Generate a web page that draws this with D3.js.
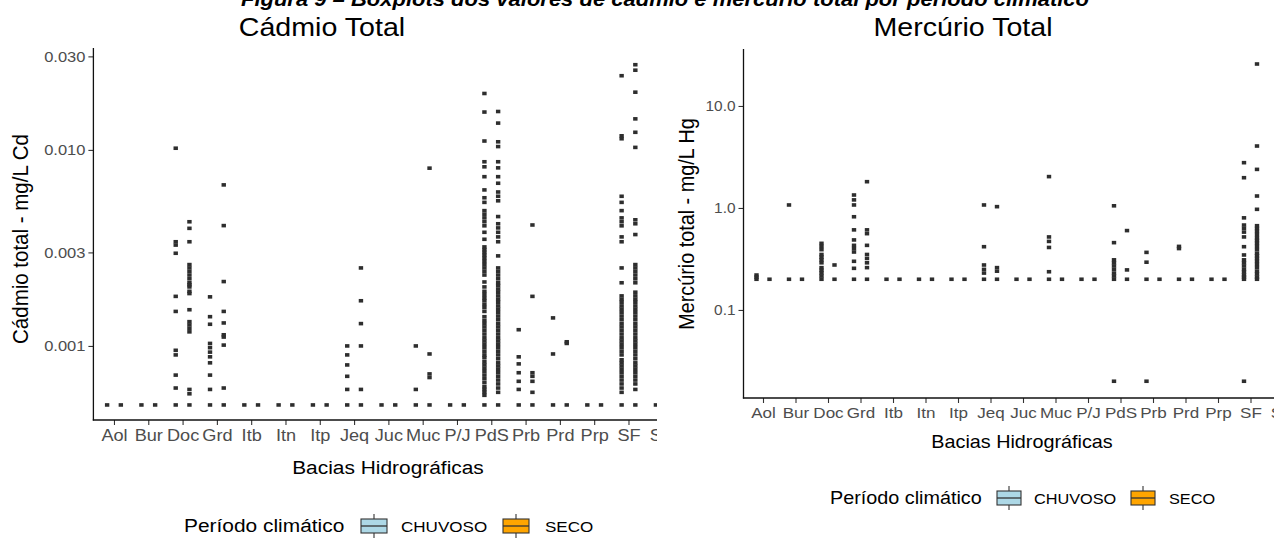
<!DOCTYPE html>
<html>
<head>
<meta charset="utf-8">
<script src="https://cdn.jsdelivr.net/npm/d3@7"></script>
<style>
  html, body { margin: 0; padding: 0; background: #fff; }
  svg { display: block; font-family: "Liberation Sans", Arial, sans-serif; }
</style>
</head>
<body>
<svg id="chart" width="1274" height="538"></svg>
<script>
// Bacias hidrográficas (eixo x, comum aos dois painéis)
const bacias = ["Aol", "Bur", "Doc", "Grd", "Itb", "Itn", "Itp", "Jeq", "Juc", "Muc", "P/J", "PdS", "Prb", "Prd", "Prp", "SF", "SM"];
const periodos = ["CHUVOSO", "SECO"];
const periodoCores = ["#ADD8E6", "#FFA500"];

// Cádmio total (mg/L Cd) - período chuvoso, um vetor por bacia
const cdChuvoso = [
  [0.0005],
  [0.0005],
  [0.0102, 0.0034, 0.00327, 0.00297, 0.00179, 0.0015, 0.00095, 0.0009, 0.00071, 0.00061, 0.0005],
  [0.00178, 0.00141, 0.00129, 0.00103, 0.00098, 0.00093, 0.00088, 0.00082, 0.00071, 0.0006, 0.0005],
  [0.0005],
  [0.0005],
  [0.0005],
  [0.001, 0.0009, 0.0008, 0.0007, 0.0006, 0.0005],
  [0.0005],
  [0.001, 0.0006, 0.0005],
  [0.0005],
  [0.0194, 0.0156, 0.0111, 0.0087, 0.0082, 0.0073, 0.00625, 0.0057, 0.0054, 0.0049, 0.0047, 0.0045, 0.0043, 0.0041, 0.0038, 0.0035,
   0.0032, 0.0031, 0.003, 0.0029, 0.0028, 0.0027, 0.0026, 0.0025, 0.0024, 0.0023, 0.00212, 0.002, 0.0019, 0.00183, 0.00176, 0.0017,
   0.00163, 0.00157, 0.0015, 0.00141, 0.00135, 0.0013, 0.00125, 0.0012, 0.00115, 0.0011, 0.00106, 0.00102, 0.00098, 0.00094, 0.0009,
   0.00087, 0.00083, 0.0008, 0.00077, 0.00074, 0.00071, 0.00068, 0.00065, 0.00062, 0.0006, 0.00058, 0.00056, 0.0005],
  [0.00121, 0.00088, 0.00081, 0.00073, 0.00066, 0.0006, 0.0005],
  [0.00139, 0.00091, 0.0005],
  [0.0005],
  [0.0239, 0.0118, 0.0114, 0.0058, 0.0054, 0.0049, 0.0045, 0.0043, 0.0041, 0.0036, 0.0034, 0.0025, 0.0021,
   0.0018, 0.00173, 0.00167, 0.0016, 0.00154, 0.00148, 0.00142, 0.00136, 0.0013, 0.00125, 0.0012, 0.00115, 0.0011, 0.00106,
   0.00102, 0.00098, 0.00094, 0.0009, 0.00085, 0.00082, 0.00079, 0.00076, 0.00073, 0.0007, 0.00067, 0.00064, 0.00061, 0.00058, 0.0005],
  [0.0005]
];

// Cádmio total (mg/L Cd) - período seco
const cdSeco = [
  [0.0005],
  [0.0005],
  [0.0043, 0.00398, 0.0034, 0.0026, 0.0025, 0.0024, 0.0023, 0.0022, 0.0021, 0.00205, 0.002, 0.0019, 0.00185, 0.00153,
   0.00133, 0.00128, 0.00123, 0.00118, 0.0006, 0.00057, 0.0005],
  [0.00663, 0.00411, 0.00213, 0.0015, 0.00131, 0.00114, 0.00111, 0.00101, 0.00061, 0.0005],
  [0.0005],
  [0.0005],
  [0.0005],
  [0.0025, 0.0017, 0.0013, 0.001, 0.0006, 0.0005],
  [0.0005],
  [0.00807, 0.00091, 0.00072, 0.00069, 0.0005],
  [0.0005],
  [0.0157, 0.0137, 0.011, 0.0104, 0.0087, 0.0081, 0.0073, 0.00676, 0.0061, 0.0058, 0.0055, 0.00457, 0.0042, 0.004, 0.0038, 0.0036,
   0.0034, 0.00288, 0.0025, 0.0024, 0.0023, 0.0022, 0.0021, 0.00203, 0.00195, 0.00188, 0.0018, 0.00173, 0.00167, 0.0016, 0.00154,
   0.00148, 0.00142, 0.00136, 0.0013, 0.00125, 0.0012, 0.00115, 0.0011, 0.00106, 0.00102, 0.00098, 0.00094, 0.0009, 0.00086,
   0.00082, 0.00079, 0.00076, 0.00073, 0.0007, 0.00067, 0.00064, 0.00061, 0.00058, 0.0005],
  [0.00414, 0.00179, 0.00073, 0.0007, 0.00066, 0.00058, 0.0005],
  [0.00105, 0.00103, 0.0005],
  [0.0005],
  [0.0272, 0.0255, 0.0197, 0.0144, 0.0123, 0.0103, 0.0044, 0.0042, 0.0037, 0.0026, 0.0025, 0.0024, 0.0023, 0.0022, 0.0021,
   0.00188, 0.0018, 0.00173, 0.00167, 0.0016, 0.00154, 0.00148, 0.00142, 0.00136, 0.0013, 0.00125, 0.0012, 0.00115, 0.0011,
   0.00106, 0.00102, 0.00098, 0.00094, 0.0009, 0.00086, 0.00082, 0.00079, 0.00076, 0.00073, 0.0007, 0.00067, 0.00064, 0.0006, 0.0005],
  [0.0005]
];

// Mercúrio total (mg/L Hg) - período chuvoso
const hgChuvoso = [
  [0.22, 0.21, 0.2],
  [1.07, 0.2],
  [0.45, 0.42, 0.39, 0.35, 0.33, 0.31, 0.29, 0.26, 0.245, 0.23, 0.215, 0.2],
  [1.34, 1.2, 1.07, 0.82, 0.61, 0.486, 0.43, 0.4, 0.37, 0.3, 0.256, 0.2],
  [0.2],
  [0.2],
  [0.2],
  [1.07, 0.417, 0.276, 0.25, 0.23, 0.2],
  [0.2],
  [2.03, 0.52, 0.47, 0.41, 0.237, 0.2],
  [0.2],
  [1.05, 0.457, 0.31, 0.29, 0.27, 0.25, 0.23, 0.215, 0.2, 0.02],
  [0.367, 0.294, 0.2, 0.02],
  [0.42, 0.4, 0.2],
  [0.2],
  [2.78, 1.98, 0.8, 0.68, 0.63, 0.58, 0.52, 0.417, 0.346, 0.31, 0.29, 0.27, 0.25, 0.235, 0.22, 0.21, 0.2, 0.02],
  [0.2]
];

// Mercúrio total (mg/L Hg) - período seco
const hgSeco = [
  [0.2],
  [0.2],
  [0.276, 0.2],
  [1.81, 0.61, 0.56, 0.43, 0.35, 0.32, 0.29, 0.26, 0.2],
  [0.2],
  [0.2],
  [0.2],
  [1.03, 0.26, 0.24, 0.2],
  [0.2],
  [0.2],
  [0.2],
  [0.6, 0.247, 0.2],
  [0.2],
  [0.2],
  [0.2],
  [25.8, 4.05, 2.39, 1.31, 0.97, 0.67, 0.63, 0.59, 0.55, 0.51, 0.48, 0.45, 0.42, 0.39, 0.36, 0.34, 0.32, 0.3, 0.28, 0.26,
   0.24, 0.225, 0.21, 0.2],
  [0.2]
];

// Marcas dos eixos y
const cdTicks = [0.001, 0.003, 0.01, 0.03];
const cdTickLabels = ["0.001", "0.003", "0.010", "0.030"];
const hgTicks = [0.1, 1, 10];
const hgTickLabels = ["0.1", "1.0", "10.0"];

const svg = d3.select("#chart");
const SX = 1.1; // horizontal text stretch

function label(g, str, x, y, size, opt = {}) {
  const t = g.append("text")
    .attr("transform", `translate(${x},${y}) scale(${SX},1)` + (opt.rotate ? ` rotate(${opt.rotate})` : ""))
    .attr("text-anchor", opt.anchor || "middle")
    .attr("font-size", size)
    .attr("fill", opt.fill || "#000")
    .text(str);
  if (opt.weight) t.attr("font-weight", opt.weight);
  if (opt.style) t.attr("font-style", opt.style);
  return t;
}

// Linha de título superior (parcialmente fora da área visível)
label(svg, "Figura 9 – Boxplots dos valores de cádmio e mercúrio total por período climático", 665, 6, 20,
  { weight: "bold", style: "italic" });

function drawPanel(cfg) {
  const g = svg.append("g");
  if (cfg.clip) {
    svg.append("clipPath").attr("id", cfg.id + "-clip")
      .append("rect").attr("x", 0).attr("y", 0).attr("width", cfg.clip).attr("height", 538);
    g.attr("clip-path", `url(#${cfg.id}-clip)`);
  }
  const first = cfg.axisX + 0.6 * cfg.step;
  const x = d3.scalePoint().domain(bacias).range([first, first + (bacias.length - 1) * cfg.step]);
  const y = d3.scaleLog().domain(cfg.yDomain).range([cfg.bottom, cfg.top]);
  const dodge = 0.2 * cfg.step;

  // pontos por bacia e período
  cfg.series.forEach((serie, si) => {
    const pts = [];
    serie.forEach((vals, bi) => vals.forEach(v => pts.push({ b: bacias[bi], v })));
    g.append("g").selectAll("rect").data(pts).join("rect")
      .attr("x", d => x(d.b) + (si === 0 ? -dodge : dodge) - 2.2)
      .attr("y", d => y(d.v) - 1.8)
      .attr("width", 4.4)
      .attr("height", 3.6)
      .attr("fill", "#2e2e2e");
  });

  // eixo y
  const ay = g.append("g").attr("transform", `translate(${cfg.axisX},0)`)
    .call(d3.axisLeft(y).tickValues(cfg.ticks).tickFormat((d, i) => cfg.tickLabels[i])
      .tickSizeInner(5).tickSizeOuter(0).tickPadding(3));
  ay.select(".domain").remove();
  ay.selectAll(".tick line").attr("stroke", "#333").attr("stroke-width", 1.1);
  ay.selectAll(".tick text").attr("font-size", cfg.yTickSize).attr("fill", "#4d4d4d")
    .attr("font-family", "Liberation Sans, Arial, sans-serif")
    .attr("transform", `scale(${SX},1)`).attr("x", -8 / SX);

  // eixo x
  const ax = g.append("g").attr("transform", `translate(0,${cfg.bottom})`)
    .call(d3.axisBottom(x).tickSizeInner(5).tickSizeOuter(0).tickPadding(4));
  ax.select(".domain").remove();
  ax.selectAll(".tick line").attr("stroke", "#333").attr("stroke-width", 1.1);
  ax.selectAll(".tick text").attr("font-size", cfg.xTickSize).attr("fill", "#4d4d4d")
    .attr("font-family", "Liberation Sans, Arial, sans-serif")
    .attr("transform", `scale(${SX},1)`);

  // linhas dos eixos
  g.append("line").attr("x1", cfg.axisX).attr("x2", cfg.axisX).attr("y1", cfg.top).attr("y2", cfg.bottom + 0.6)
    .attr("stroke", "#111").attr("stroke-width", 1.3);
  g.append("line").attr("x1", cfg.axisX - 0.6).attr("x2", x.range()[1] + 0.6 * cfg.step).attr("y1", cfg.bottom).attr("y2", cfg.bottom)
    .attr("stroke", "#111").attr("stroke-width", 1.3);

  // títulos
  label(g, cfg.title, cfg.titleX, 36, 26);
  label(g, cfg.yTitle, cfg.yTitleX, cfg.yTitleY, cfg.yTitleSize, { rotate: -90 });
  label(g, "Bacias Hidrográficas", cfg.xTitleX, cfg.xTitleY, cfg.axisTitleSize);

  // legenda
  const L = cfg.legend;
  label(g, "Período climático", L.x, L.y + 6, L.titleSize, { anchor: "start" });
  periodos.forEach((p, i) => {
    const kx = L.keys[i];
    const kg = g.append("g");
    kg.append("line").attr("x1", kx + L.kw / 2).attr("x2", kx + L.kw / 2)
      .attr("y1", L.y - 12).attr("y2", L.y + 12).attr("stroke", "#333").attr("stroke-width", 1.1);
    kg.append("rect").attr("x", kx).attr("y", L.y - 7).attr("width", L.kw).attr("height", 14)
      .attr("fill", periodoCores[i]).attr("stroke", "#333").attr("stroke-width", 1.1);
    kg.append("line").attr("x1", kx).attr("x2", kx + L.kw).attr("y1", L.y).attr("y2", L.y)
      .attr("stroke", "#333").attr("stroke-width", 1.3);
    label(g, p, L.labels[i], L.y + 5.5, L.labelSize, { anchor: "start" });
  });
}

drawPanel({
  id: "cd", clip: 657,
  axisX: 93.4, step: 34.3, top: 48, bottom: 420,
  yDomain: [0.000419, 0.0331],
  ticks: cdTicks, tickLabels: cdTickLabels, yTickSize: 15, xTickSize: 16.5,
  series: [cdChuvoso, cdSeco],
  title: "Cádmio Total", titleX: 322,
  yTitle: "Cádmio total - mg/L Cd", yTitleX: 28, yTitleY: 239, yTitleSize: 20.5,
  xTitleX: 388, xTitleY: 474, axisTitleSize: 19,
  legend: { x: 184, y: 526, titleSize: 19, labelSize: 15.5, kw: 26, keys: [361, 503], labels: [401, 545] }
});

drawPanel({
  id: "hg", clip: null,
  axisX: 743.5, step: 32.5, top: 49, bottom: 398,
  yDomain: [0.0137, 36.2],
  ticks: hgTicks, tickLabels: hgTickLabels, yTickSize: 14, xTickSize: 15.5,
  series: [hgChuvoso, hgSeco],
  title: "Mercúrio Total", titleX: 963,
  yTitle: "Mercúrio total - mg/L Hg", yTitleX: 694, yTitleY: 224, yTitleSize: 19.8,
  xTitleX: 1022, xTitleY: 448, axisTitleSize: 18,
  legend: { x: 830, y: 498, titleSize: 18, labelSize: 14.8, kw: 24, keys: [997, 1131], labels: [1034, 1169] }
});
</script>
</body>
</html>
